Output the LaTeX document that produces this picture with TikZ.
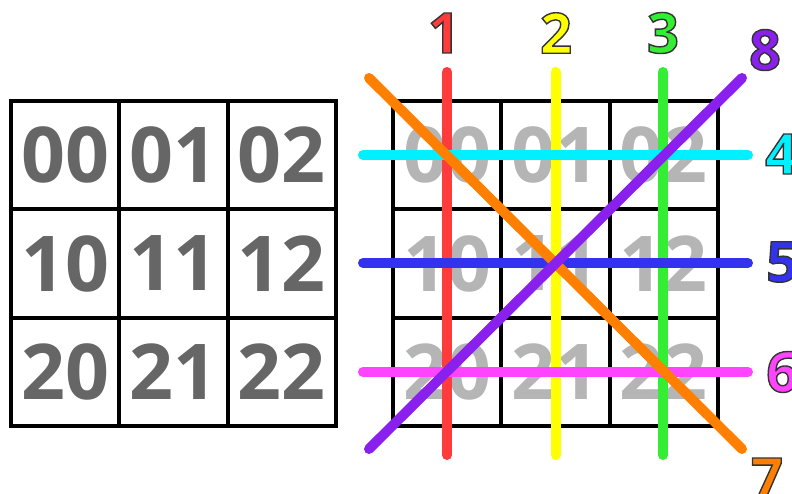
\documentclass[tikz,border=0pt]{standalone}
\usepackage{fontspec}
\setmainfont{Open Sans}
\newfontfamily\numfont{Open Sans}[BoldFont={* Bold}]
\definecolor{darknum}{HTML}{666666}
\definecolor{lightnum}{HTML}{B5B5B5}
\definecolor{cred}{HTML}{FF3B3B}
\definecolor{cyellow}{HTML}{FFFF00}
\definecolor{cgreen}{HTML}{33EE33}
\definecolor{ccyan}{HTML}{00F0FF}
\definecolor{cblue}{HTML}{3333EE}
\definecolor{cmagenta}{HTML}{FF44FF}
\definecolor{corange}{HTML}{FF8000}
\definecolor{cpurple}{HTML}{8A20EE}
\newcommand\outlined[1]{\special{pdf:literal direct 2 Tr 1.4 w 0.2 0.2 0.2 RG}#1\special{pdf:literal direct 0 Tr}}
\tikzset{
  cellbox/.style={draw=black, line width=4pt, minimum width=108.33pt, minimum height=108.33pt, inner sep=0pt, font=\numfont\bfseries\fontsize{77}{77}\selectfont},
  leftcell/.style={cellbox, text=darknum},
  rightcell/.style={cellbox, text=lightnum},
  stroke/.style={line width=10pt, line cap=round},
  lbl/.style={inner sep=0pt, font=\numfont\bfseries\fontsize{56}{56}\selectfont}
}
\begin{document}
\begin{tikzpicture}[x=1pt,y=-1pt]
\useasboundingbox (0,0) rectangle (792,494);
% left grid
\foreach \r in {0,1,2}{
  \foreach \c in {0,1,2}{
    \node[leftcell] (L\r\c) at ({11+54.17+108.33*\c},{101+54.17+108.33*\r}) {\r\c};
  }
}
% right grid
\foreach \r in {0,1,2}{
  \foreach \c in {0,1,2}{
    \node[rightcell] (R\r\c) at ({393+54.17+108.33*\c},{101+54.17+108.33*\r}) {\r\c};
  }
}
% end points
\coordinate (v1a) at (447,72);   \coordinate (v1b) at (447,455);
\coordinate (v2a) at (555.5,72); \coordinate (v2b) at (555.5,455);
\coordinate (v3a) at (663,72);   \coordinate (v3b) at (663,455);
\coordinate (h4a) at (363,155);  \coordinate (h4b) at (748,155);
\coordinate (h5a) at (363,263);  \coordinate (h5b) at (748,263);
\coordinate (h6a) at (363,372);  \coordinate (h6b) at (748,372);
\coordinate (d7a) at (369,78);   \coordinate (d7b) at (742,449);
\coordinate (d8a) at (742,78);   \coordinate (d8b) at (369,449);
% lines
\draw[stroke, cred] (v1a) -- (v1b);
\draw[stroke, cyellow] (v2a) -- (v2b);
\draw[stroke, cgreen] (v3a) -- (v3b);
\draw[stroke, ccyan] (h4a) -- (h4b);
\draw[stroke, cblue] (h5a) -- (h5b);
\draw[stroke, cmagenta] (h6a) -- (h6b);
\draw[stroke, corange] (d7a) -- (d7b);
\draw[stroke, cpurple] (d8a) -- (d8b);
% labels
\node[lbl, text=cred] (n1) at (444,33) {\outlined{1}};
\node[lbl, text=cyellow] (n2) at (556,33) {\outlined{2}};
\node[lbl, text=cgreen] (n3) at (663,33) {\outlined{3}};
\node[lbl, text=ccyan, anchor=west] (n4) at (765,154) {\outlined{4}};
\node[lbl, text=cblue, anchor=west] (n5) at (766,262) {\outlined{5}};
\node[lbl, text=cmagenta, anchor=west] (n6) at (766,372) {\outlined{6}};
\node[lbl, text=corange] (n7) at (767,478) {\outlined{7}};
\node[lbl, text=cpurple] (n8) at (765,50) {\outlined{8}};
\end{tikzpicture}
\end{document}
